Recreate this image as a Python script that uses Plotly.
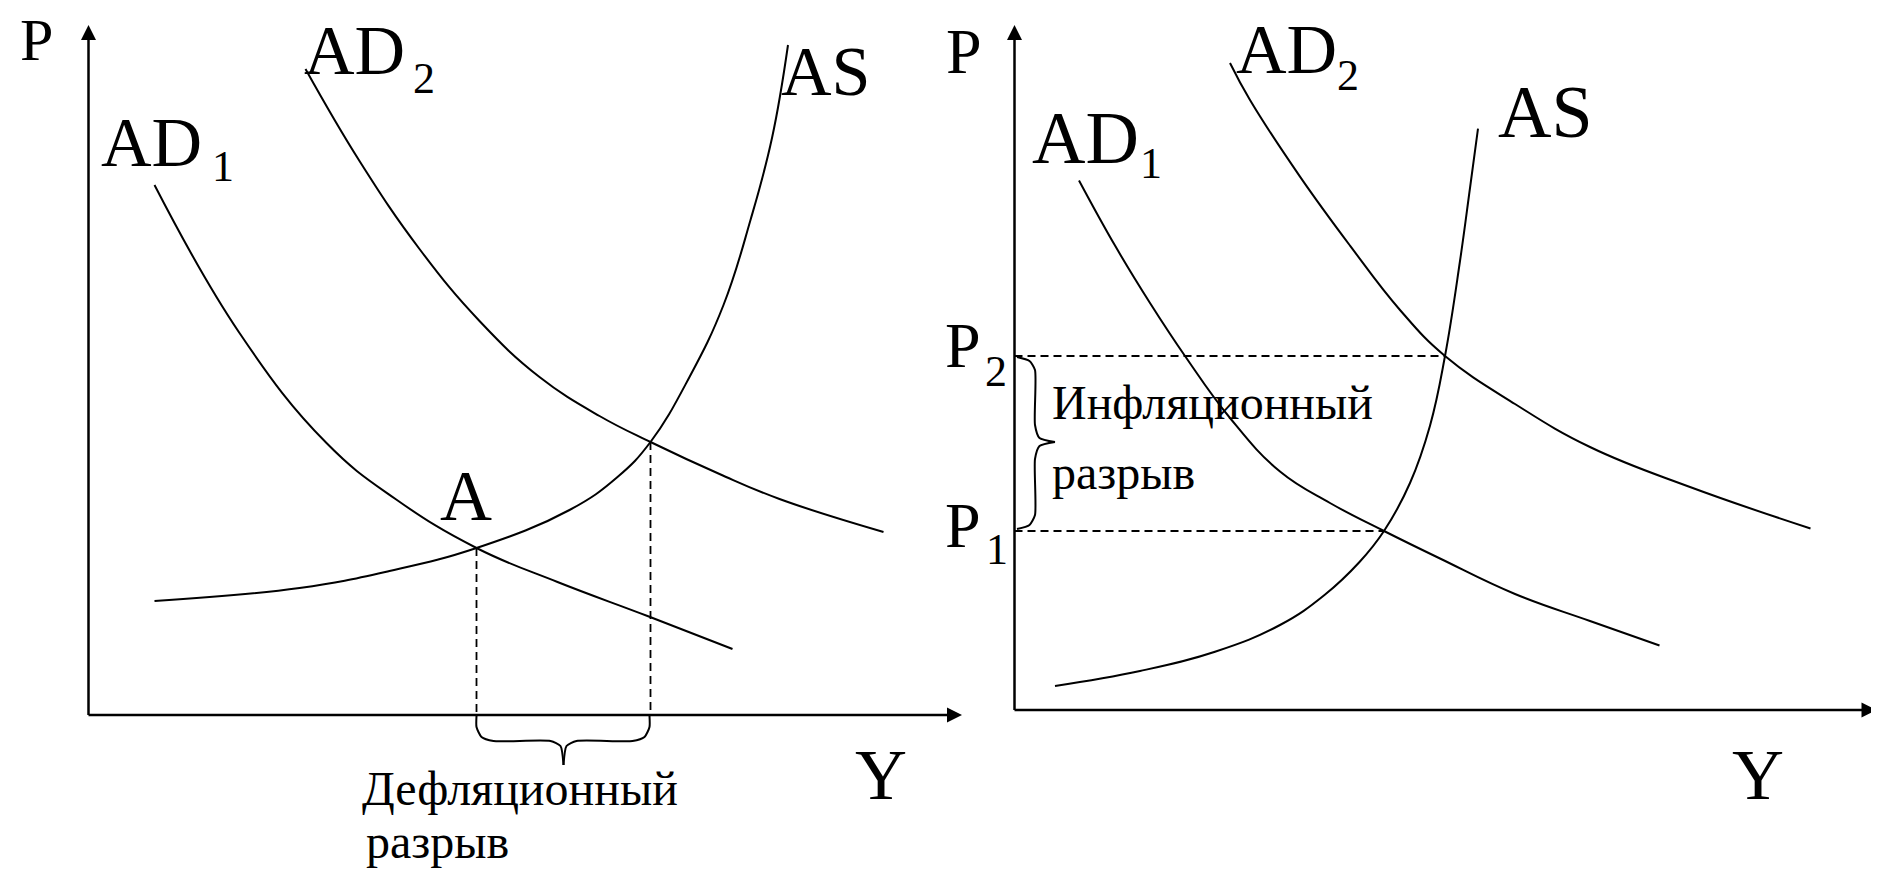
import plotly.graph_objects as go

# ---------------- data (panel-relative units) ----------------
# Left panel: deflationary gap
L_AD1_Y = [66, 151, 238, 307, 388, 469, 559, 644]
L_AD1_P = [530, 382, 272, 216, 167, 133, 99, 66]
L_AD2_Y = [217, 271, 331, 391, 451, 511, 562, 631, 691, 795]
L_AD2_P = [646, 554, 466, 394, 338, 299, 273, 241, 216, 183]
L_AS_Y = [66, 211, 301, 388, 481, 529, 562, 601, 635, 662, 683.5, 699.5]
L_AS_P = [114, 127, 144, 167, 205, 238, 273, 338, 410, 495, 577, 670]
L_EQ_Y = [388, 562]          # Y at equilibrium points
L_EQ_P = [167, 273]          # P at equilibrium points
L_AXIS_YMAX = 873.5
L_AXIS_PMAX = 690
L_BRACE_LEFT_Y = [388, 388, 393, 405, 462, 472, 475]
L_BRACE_LEFT_P = [-1, -12, -22, -26, -26, -31, -50]
L_BRACE_RIGHT_Y = [475, 478, 488, 544, 556, 561, 561]
L_BRACE_RIGHT_P = [-50, -31, -26, -26, -22, -12, -1]

# Right panel: inflationary gap
R_AD1_Y = [64.5, 100.5, 135.5, 170.5, 215.5, 265.5, 315.5, 369.5, 425.5, 500.5, 575.5, 645]
R_AD1_P = [529.5, 464.4, 407, 354, 292, 238.4, 207, 179, 151.5, 116, 89, 64.5]
R_AD2_Y = [215.5, 235.5, 285.5, 335.5, 385.5, 430.5, 500.5, 575.5, 675.5, 796]
R_AD2_P = [647, 610, 533.4, 464.4, 400, 354, 306, 263, 223, 181.5]
R_AS_Y = [40.5, 125.5, 200.5, 265.5, 310, 345, 369.5, 395.5, 415.5, 430.5, 445.5, 455.5, 463.5]
R_AS_P = [24, 39, 58.3, 85, 115, 148, 179, 227, 284.3, 354, 449, 522, 581.3]
R_EQ_Y = [369.5, 430.5]
R_EQ_P = [179, 354]
R_AXIS_YMAX = 862
R_AXIS_PMAX = 685
R_BRACE_TOP_Y = [2.5, 15, 20.5, 20.5, 25, 40.5]
R_BRACE_TOP_P = [353, 349, 340, 285, 272, 268]
R_BRACE_BOT_Y = [40.5, 25, 20.5, 20.5, 15, 2.5]
R_BRACE_BOT_P = [268, 264, 251, 195, 185, 181]

FONT = "Liberation Serif, Times New Roman, serif"
BLACK = "#000000"

fig = go.Figure()


def line(x, y, xa, ya, width=2.0, dash=None, shape="spline", smoothing=1.0):
    ln = dict(color=BLACK, width=width, shape=shape)
    if shape == "spline":
        ln["smoothing"] = smoothing
    if dash:
        ln["dash"] = dash
    fig.add_trace(go.Scatter(x=x, y=y, mode="lines", line=ln, xaxis=xa, yaxis=ya,
                             hoverinfo="skip", showlegend=False))


def arrow_tip(x, y, symbol, xa, ya):
    fig.add_trace(go.Scatter(x=[x], y=[y], mode="markers",
                             marker=dict(symbol=symbol, size=15, color=BLACK,
                                         line=dict(width=0)),
                             xaxis=xa, yaxis=ya, hoverinfo="skip", showlegend=False,
                             cliponaxis=False))


# ---- left panel ----
xa, ya = "x", "y"
line([0, 0], [0, L_AXIS_PMAX - 8], xa, ya, width=2.5, shape="linear")
line([0, L_AXIS_YMAX - 8], [0, 0], xa, ya, width=2.5, shape="linear")
arrow_tip(0, L_AXIS_PMAX, "arrow-up", xa, ya)
arrow_tip(L_AXIS_YMAX, 0, "arrow-right", xa, ya)
line(L_AD1_Y, L_AD1_P, xa, ya, smoothing=1.2)
line(L_AD2_Y, L_AD2_P, xa, ya, smoothing=1.2)
line(L_AS_Y, L_AS_P, xa, ya, smoothing=1.2)
for yv, pv in zip(L_EQ_Y, L_EQ_P):
    line([yv, yv], [pv, 0], xa, ya, width=1.8, dash="8px,5px", shape="linear")
line(L_BRACE_LEFT_Y, L_BRACE_LEFT_P, xa, ya, width=2.0, smoothing=0.6)
line(L_BRACE_RIGHT_Y, L_BRACE_RIGHT_P, xa, ya, width=2.0, smoothing=0.6)

# ---- right panel ----
xa, ya = "x2", "y2"
line([0, 0], [0, R_AXIS_PMAX - 8], xa, ya, width=2.5, shape="linear")
line([0, R_AXIS_YMAX - 8], [0, 0], xa, ya, width=2.5, shape="linear")
arrow_tip(0, R_AXIS_PMAX, "arrow-up", xa, ya)
arrow_tip(R_AXIS_YMAX, 0, "arrow-right", xa, ya)
line(R_AD1_Y, R_AD1_P, xa, ya, smoothing=1.2)
line(R_AD2_Y, R_AD2_P, xa, ya, smoothing=1.2)
line(R_AS_Y, R_AS_P, xa, ya, smoothing=1.2)
for yv, pv in zip(R_EQ_Y, R_EQ_P):
    line([0, yv], [pv, pv], xa, ya, width=1.8, dash="8px,5px", shape="linear")
line(R_BRACE_TOP_Y, R_BRACE_TOP_P, xa, ya, width=2.0, smoothing=0.6)
line(R_BRACE_BOT_Y, R_BRACE_BOT_P, xa, ya, width=2.0, smoothing=0.6)

# ---------------- text ----------------
def label(text, x, y, size, xr, yr, xanchor="center"):
    fig.add_annotation(text=text, x=x, y=y, xref=xr, yref=yr, showarrow=False,
                       xanchor=xanchor, yanchor="middle", borderpad=0,
                       font=dict(family=FONT, size=size, color=BLACK))

# left labels
label("P", -51.8, 675, 60, "x", "y")
label("AD", 265.5, 665, 70, "x", "y")
label("2", 335, 636.5, 44, "x", "y")
label("AD", 62.5, 572.5, 70, "x", "y")
label("1", 134.5, 549, 44, "x", "y")
label("AS", 737, 644, 70, "x", "y")
label("A", 377.5, 219, 72, "x", "y")
label("Y", 792, -59.5, 72, "x", "y")
label("Дефляционный", 431.5, -73.7, 48, "x", "y")
label("разрыв", 276, -126.7, 48, "x", "y", xanchor="left")

# right labels
label("P", -50.5, 659, 64, "x2", "y2")
label("AD", 271.5, 660.5, 70, "x2", "y2")
label("2", 333, 635, 44, "x2", "y2")
label("AD", 71, 572, 74, "x2", "y2")
label("1", 136, 546.5, 44, "x2", "y2")
label("AS", 530.5, 598, 74, "x2", "y2")
label("P", -51.5, 365, 64, "x2", "y2")
label("2", -19, 339, 44, "x2", "y2")
label("P", -51.5, 185, 64, "x2", "y2")
label("1", -18, 161, 44, "x2", "y2")
label("Y", 743.5, -64.5, 72, "x2", "y2")
label("Инфляционный", 36, 308, 48, "x2", "y2", xanchor="left")
label("разрыв", 36, 238, 48, "x2", "y2", xanchor="left")

# the page body has an 8 px margin, so the figure is 8 px smaller and ranges shifted
PAGE_W, PAGE_H, BODY = 1879, 869, 8
W, H = PAGE_W - BODY, PAGE_H - BODY
ax_common = dict(visible=False, showgrid=False, zeroline=False, fixedrange=True)
fig.update_layout(
    width=W, height=H,
    margin=dict(l=0, r=0, t=0, b=0),
    paper_bgcolor="white", plot_bgcolor="rgba(0,0,0,0)",
    showlegend=False,
    xaxis=dict(domain=[0, 1], range=[BODY - 88.5, PAGE_W - 88.5], **ax_common),
    yaxis=dict(domain=[0, 1], range=[715 - PAGE_H, 715 - BODY], **ax_common),
    xaxis2=dict(domain=[0, 1], range=[BODY - 1014.5, PAGE_W - 1014.5], overlaying="x", **ax_common),
    yaxis2=dict(domain=[0, 1], range=[710 - PAGE_H, 710 - BODY], overlaying="y", anchor="x2", **ax_common),
)

fig.write_html("out.html")
